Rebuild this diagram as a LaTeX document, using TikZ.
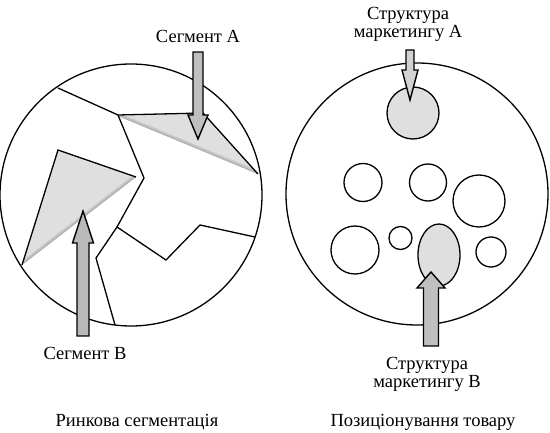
\documentclass[tikz,border=0pt]{standalone}
\usepackage{fontspec}
\setmainfont{Liberation Serif}
\usetikzlibrary{calc,shapes.geometric}

\newcommand{\blockarrow}[6]{%
  \coordinate (bah) at ($(#2)!#5!(#1)$);
  \draw[blockline,fill=#6] ($(#1)!#3!90:(#2)$) -- ($(bah)!#3!90:(#2)$)
    -- ($(bah)!#4!90:(#2)$) -- (#2) -- ($(bah)!#4!-90:(#2)$)
    -- ($(bah)!#3!-90:(#2)$) -- ($(#1)!#3!-90:(#2)$) -- cycle;
}

\begin{document}
\begin{tikzpicture}[x=1pt,y=-1pt,
  ring/.style={circle,draw,line width=1.3pt,inner sep=0pt,minimum size=262pt},
  bubble/.style={circle,draw,line width=1.3pt,inner sep=0pt},
  spot/.style={fill=gray!25},
  cut/.style={line width=1.3pt,line join=miter},
  blockline/.style={draw,line width=1.4pt,line join=miter},
  caption/.style={font=\fontsize{18.5}{18.5}\selectfont,anchor=base,align=center,inner sep=0pt}]
  \useasboundingbox (0,0) rectangle (550,433);

  \node[ring] (market) at (131,195) {};
  \node[ring] (product) at (417,194) {};

  \begin{scope}
    \clip (118,116) -- (203,113) -- (258,174) -- cycle;
    \fill[gray!25] (118,116) -- (203,113) -- (258,174) -- cycle;
    \draw[gray!45,line width=6pt] (118,116) -- (258,174);
    \draw[gray!60,line width=2.5pt] (118,116) -- (258,174);
  \end{scope}
  \begin{scope}
    \clip (58,150) -- (136,177) -- (22,265) -- cycle;
    \fill[gray!25] (58,150) -- (136,177) -- (22,265) -- cycle;
    \draw[gray!45,line width=6pt] (22,265) -- (136,177);
    \draw[gray!60,line width=2.5pt] (22,265) -- (136,177);
  \end{scope}

  \draw[cut] (58,88) -- (118,115) -- (203,113) -- (258,174);
  \draw[cut] (118,115) -- (144,178) -- (117,227) -- (96,258) -- (115,325);
  \draw[cut] (117,227) -- (166,260) -- (200,225) -- (255,237);
  \draw[cut] (136,177) -- (58,150) -- (22,265);

  \node[bubble,spot,minimum size=52pt] (strA) at (413,113) {};
  \node[bubble,minimum size=38pt] (b1) at (363,182.5) {};
  \node[bubble,minimum size=37pt] (b2) at (428,182.5) {};
  \node[bubble,minimum size=52pt] (b3) at (479,201) {};
  \node[bubble,minimum size=48pt] (b4) at (355,250) {};
  \node[bubble,minimum size=23pt] (b5) at (400.5,238) {};
  \node[bubble,spot,ellipse,minimum width=42pt,minimum height=62pt] (strB) at (439,255) {};
  \node[bubble,minimum size=30pt] (b6) at (491,252) {};

  \coordinate (segA-tail) at (198,52);
  \coordinate (segA-tip) at (198,139);
  \coordinate (segB-tail) at (83,336);
  \coordinate (segB-tip) at (83,211);
  \coordinate (strA-tail) at (410,50);
  \coordinate (strA-tip) at (410,100);
  \coordinate (strB-tail) at (431,346);
  \coordinate (strB-tip) at (431,272);

  \blockarrow{segA-tail}{segA-tip}{5pt}{10pt}{24pt}{gray!50}
  \blockarrow{segB-tail}{segB-tip}{6pt}{10.5pt}{32pt}{gray!55}
  \blockarrow{strA-tail}{strA-tip}{4pt}{8pt}{30pt}{gray!35}
  \blockarrow{strB-tail}{strB-tip}{7.5pt}{14pt}{16pt}{gray!50}

  \node[caption] (segAlabel) at (198,43) {Сегмент А};
  \node[caption] (segBlabel) at (85,360) {Сегмент В};
  \node[caption] (strAlabel) at (408,38) {Структура\\маркетингу А};
  \node[caption] (strBlabel) at (427,388) {Структура\\маркетингу В};
  \node[caption] (segm) at (137,427) {Ринкова сегментація};
  \node[caption] (posit) at (423,427) {Позиціонування товару};
\end{tikzpicture}
\end{document}
